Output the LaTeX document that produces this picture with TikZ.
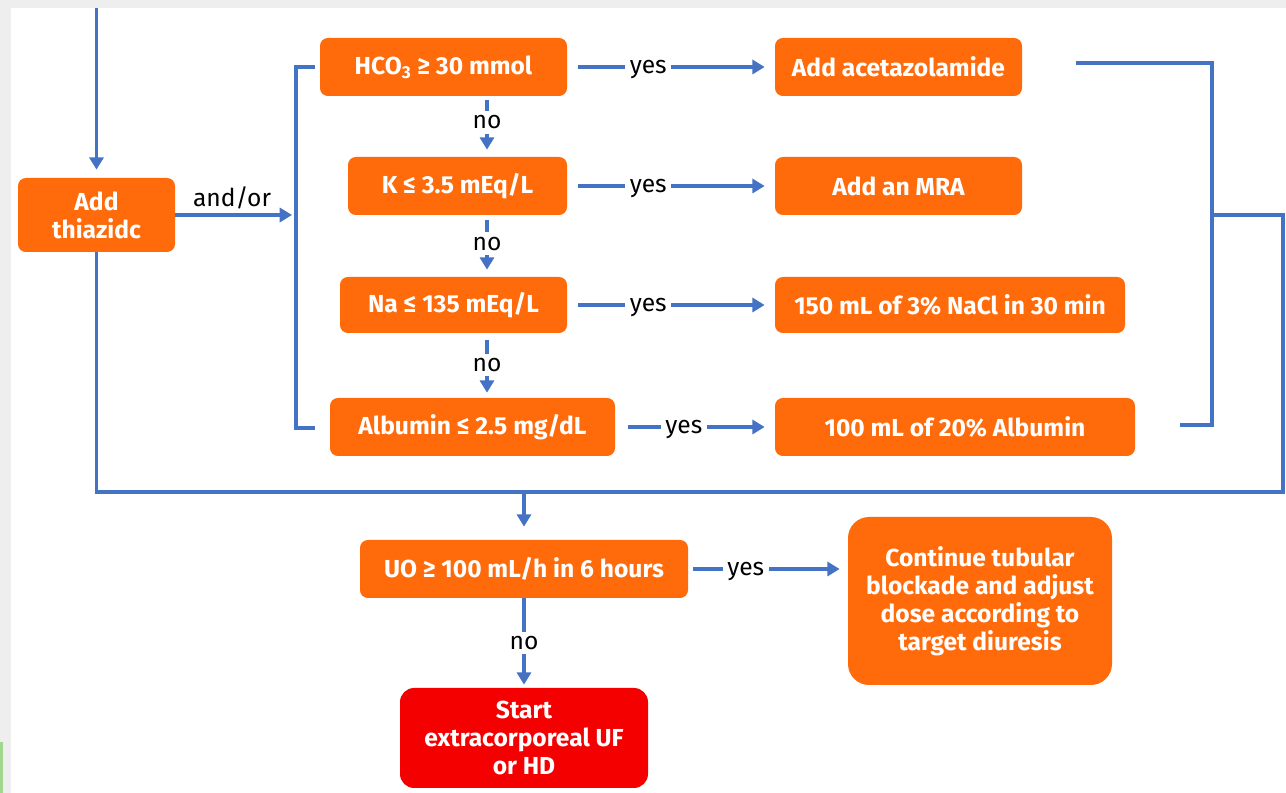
\documentclass[tikz,border=0pt]{standalone}
\usepackage{fontspec}
\setmainfont{Fira Sans}
\usetikzlibrary{positioning, calc, arrows.meta}
\definecolor{boxorange}{RGB}{255,106,10}
\definecolor{boxred}{RGB}{244,0,0}
\definecolor{linkblue}{RGB}{68,114,196}
\definecolor{stripgray}{RGB}{238,238,238}
\definecolor{tabgreen}{RGB}{160,215,140}

\begin{document}
\begin{tikzpicture}[x=0.02cm, y=-0.02cm,
	box/.style={fill=boxorange, text=white, font=\fontsize{14}{16}\selectfont\bfseries, rounded corners=4.5pt, align=center, inner sep=0pt},
	wh/.style 2 args={minimum width=#1*0.02cm, minimum height=#2*0.02cm},
	link/.style={draw=linkblue, line width=2.2pt},
	arr/.style={link, -{Triangle[length=7pt,width=8pt]}},
	lbl/.style={fill=white, text=black, font=\fontsize{14}{16}\selectfont, inner sep=2.5pt, yshift=-0.05cm}]
	\useasboundingbox (0,0) rectangle (1286,793);
	\fill[white] (0,0) rectangle (1286,793);
	\fill[stripgray] (0,0) rectangle (1286,8);
	\fill[stripgray] (0,0) rectangle (11,793);
	\fill[tabgreen] (0,742) rectangle (3,793);

	% left column and the four checks
	\node[box, wh={157}{74}] (thz) at (96.5,215) {Add\\thiazidc};
	\node[box, wh={247}{58}] (hco) at (443.5,67) {HCO\textsubscript{3} ≥ 30 mmol};
	\node[box, wh={219}{58}] (kbox) at (457.5,186) {K ≤ 3.5 mEq/L};
	\node[box, wh={227}{56}] (nabox) at (453.5,305) {Na ≤ 135 mEq/L};
	\node[box, wh={285}{58}] (alb) at (472.5,427) {Albumin ≤ 2.5 mg/dL};

	% treatments
	\node[box, wh={247}{58}] (acet) at (898.5,67) {Add acetazolamide};
	\node[box, wh={247}{58}] (mra) at (898.5,186) {Add an MRA};
	\node[box, wh={350}{56}] (nacl) at (950,305) {150 mL of 3\% NaCl in 30 min};
	\node[box, wh={360}{58}] (albinf) at (955,427) {100 mL of 20\% Albumin};

	% urine output check
	\node[box, wh={328}{58}] (uo) at (524,569) {UO ≥ 100 mL/h in 6 hours};
	\node[box, wh={264}{168}, rounded corners=12pt] (cont) at (980,601) {Continue tubular\\blockade and adjust\\dose according to\\target diuresis};
	\node[box, wh={248}{100}, fill=boxred, rounded corners=8pt] (start) at (524,738) {Start\\extracorporeal UF\\or HD};

	\coordinate (src) at (96.5,8);
	\coordinate (nocol) at (487,0);
	\coordinate (lmid) at (296,215);
	\coordinate (ltop) at (315,67);
	\coordinate (lbot) at (315,428);
	\coordinate (rtop) at (1076,63);
	\coordinate (rbot) at (1180,425);
	\coordinate (rmid) at (1212,215);
	\coordinate (rcorner) at (1283,492);
	\coordinate (join) at (524,492);

	\draw[arr, shorten >=0.16cm] (src) -- (thz.north);
	\draw[arr, shorten >=0.08cm] (thz.east) -- node[lbl, above, fill=none, pos=0.47, yshift=0.05cm] {and/or} (lmid);
	\draw[link] (ltop) -| (lmid) |- (lbot);

	% no branches
	\draw[arr, shorten <=0.08cm, shorten >=0.14cm] (hco.south -| nocol) -- node[lbl, pos=0.39] {no} (kbox.north -| nocol);
	\draw[arr, shorten <=0.1cm, shorten >=0.14cm] (kbox.south -| nocol) -- node[lbl, pos=0.42] {no} (nabox.north -| nocol);
	\draw[arr, shorten <=0.14cm, shorten >=0.1cm] (nabox.south -| nocol) -- node[lbl, pos=0.45] {no} (alb.north -| nocol);

	% yes branches
	\draw[arr, shorten <=0.22cm, shorten >=0.2cm] (hco.east) -- node[lbl, pos=0.39] {yes} (acet.west);
	\draw[arr, shorten <=0.22cm, shorten >=0.2cm] (kbox.east) -- node[lbl, pos=0.39] {yes} (mra.west);
	\draw[arr, shorten <=0.22cm, shorten >=0.2cm] (nabox.east) -- node[lbl, pos=0.39] {yes} (nacl.west);
	\draw[arr, shorten <=0.26cm, shorten >=0.2cm] (alb.east) -- node[lbl, pos=0.43] {yes} (albinf.west);

	% collect and loop back
	\draw[link] (rtop) -| (rmid) |- (rbot);
	\draw[link] (thz.south) |- (rcorner) |- (rmid);
	\draw[arr, shorten >=0.26cm] (join) -- (uo.north);

	\draw[arr, shorten <=0.1cm, shorten >=0.16cm] (uo.east) -- node[lbl, pos=0.36] {yes} (uo.east -| cont.west);
	\draw[arr, shorten >=0.06cm] (uo.south) -- node[lbl, pos=0.47] {no} (start.north);
\end{tikzpicture}
\end{document}
